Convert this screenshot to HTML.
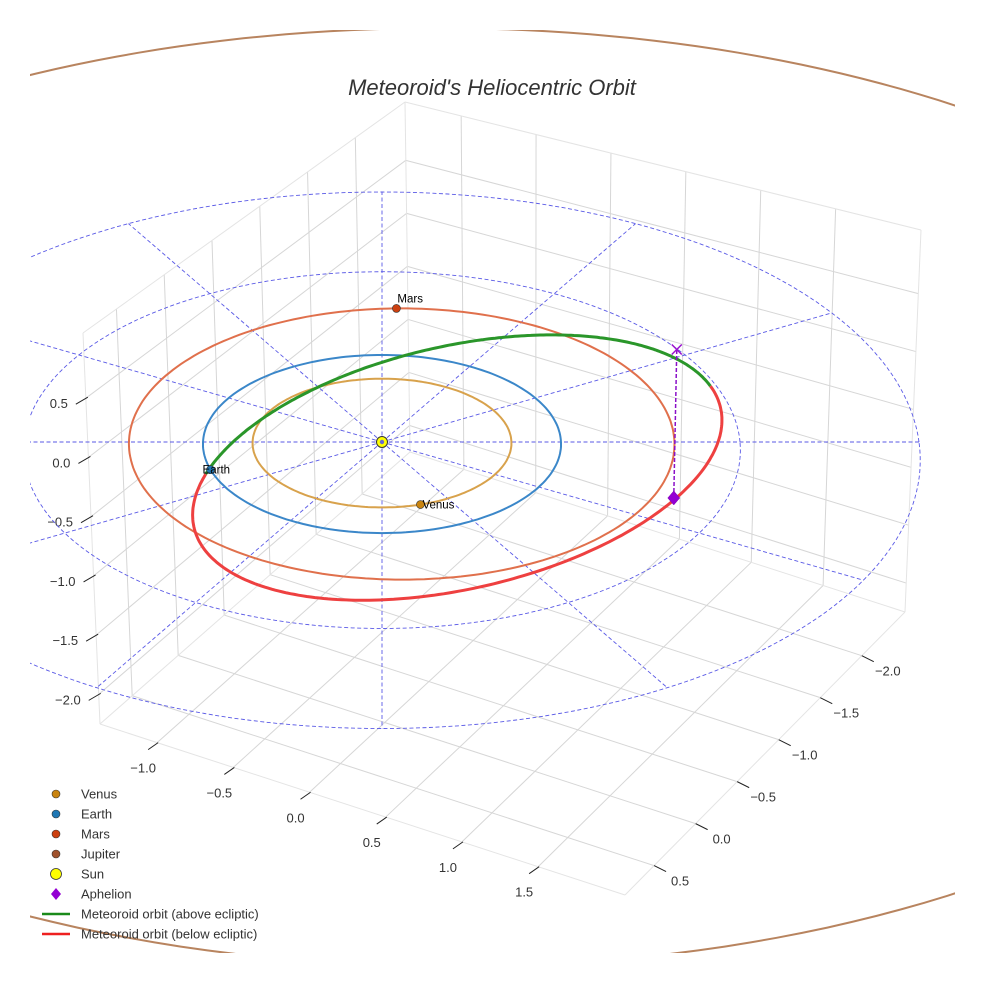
<!DOCTYPE html>
<html><head><meta charset="utf-8"><style>
html,body{margin:0;padding:0;background:#fff;}
svg{display:block;font-family:"Liberation Sans",sans-serif;}
</style></head><body>
<svg id="chart" width="984" height="984" viewBox="0 0 984 984">
<defs><clipPath id="clipAx"><rect x="30" y="30" width="925" height="923"/></clipPath></defs>
<rect width="984" height="984" fill="#fff"/>
<g id="box"></g>
<g id="plot" clip-path="url(#clipAx)"></g>
<text x="492" y="95" text-anchor="middle" font-size="22" font-style="italic" fill="#333">Meteoroid's Heliocentric Orbit</text>
<g id="legend"></g>
</svg>
<script>
// ---- data ----
const planetNames = ['Venus', 'Earth', 'Mars', 'Jupiter'];
const planetA = [0.723, 1.0, 1.524, 5.2];
const planetOffsetX = [0, 0, 0.11, 0.35];
const planetOffsetY = [0, 0, 0.03, 0];
const planetAngleDeg = [-73, 198, 91, null];
const ringRadii = [1, 2, 3];
const spokeAnglesDeg = [0, 30, 60, 90, 120, 150, 180, 210, 240, 270, 300, 330];
const metCenter = [0.436, -0.236];
const metAxisU = [1.475, 0.539];
const metAxisV = [0, -1.371];
const metAboveRange = [-2.85, -0.26];
const aphelionXY = [1.607, -0.62];
const aphelionZ = [1.22];
const xTicks = [-1.0, -0.5, 0.0, 0.5, 1.0, 1.5];
const yTicks = [0.5, 0.0, -0.5, -1.0, -1.5, -2.0];
const zTicks = [0.5, 0.0, -0.5, -1.0, -1.5, -2.0];
const xLim = [-1.375, 2.07];
const yLim = [0.85, -2.52];
const zLim = [-2.25, 1.05];

const NS = 'http://www.w3.org/2000/svg';
function mk(tag, attrs, parent) {
  const e = document.createElementNS(NS, tag);
  for (const k in attrs) e.setAttribute(k, attrs[k]);
  parent.appendChild(e);
  return e;
}
function proj(X, Y, Z) {
  const s = 1 / (1 + 0.0227 * Y);
  return [382 + 179 * X * s, 442 - 89 * Y * s - 120 * (Z || 0) * s];
}
const C = {
  '000': [100, 724], '100': [625, 895], '110': [905, 612], '010': [410, 452],
  '001': [83, 333], '101': [615, 470], '111': [921, 230], '011': [405, 102]
};
function boxP(x, y, z) {
  const u = (x - xLim[0]) / (xLim[1] - xLim[0]);
  const v = (y - yLim[0]) / (yLim[1] - yLim[0]);
  const w = (z - zLim[0]) / (zLim[1] - zLim[0]);
  let px = 0, py = 0;
  for (const a of [0, 1]) for (const b of [0, 1]) for (const c of [0, 1]) {
    const wt = (a ? u : 1 - u) * (b ? v : 1 - v) * (c ? w : 1 - w);
    const p = C['' + a + b + c];
    px += wt * p[0]; py += wt * p[1];
  }
  return [px, py];
}
function fmt(v) { return (v < 0 ? '\u2212' : '') + Math.abs(v).toFixed(1); }

const box = document.getElementById('box');
function gline(p, q, name, col, w) {
  const l = mk('line', {x1: p[0], y1: p[1], x2: q[0], y2: q[1], stroke: col || '#d6d6d6', 'stroke-width': w || 1}, box);
  
  
  return l;
}
xTicks.forEach(x => { gline(boxP(x, yLim[0], zLim[0]), boxP(x, yLim[1], zLim[0]), 'floor-gridline-x'); });
yTicks.forEach(y => { gline(boxP(xLim[0], y, zLim[0]), boxP(xLim[1], y, zLim[0]), 'floor-gridline-y'); });
yTicks.forEach(y => { gline(boxP(xLim[0], y, zLim[0]), boxP(xLim[0], y, zLim[1]), 'left-wall-gridline-y'); });
zTicks.forEach(z => { gline(boxP(xLim[0], yLim[0], z), boxP(xLim[0], yLim[1], z), 'left-wall-gridline-z'); });
xTicks.forEach(x => { gline(boxP(x, yLim[1], zLim[0]), boxP(x, yLim[1], zLim[1]), 'back-wall-gridline-x'); });
zTicks.forEach(z => { gline(boxP(xLim[0], yLim[1], z), boxP(xLim[1], yLim[1], z), 'back-wall-gridline-z'); });
[['000','001'],['010','011'],['110','111'],['001','011'],['011','111'],['000','100'],['100','110'],['000','010'],['010','110']].forEach(e => {
  gline(C[e[0]], C[e[1]], 'pane-edge', '#e4e4e4', 1);
});
xTicks.forEach(x => {
  const p = boxP(x, yLim[0], zLim[0]);
  gline([p[0] - 9, p[1] + 7], [p[0] + 1, p[1]], 'x-tick', '#222', 1);
  const t = mk('text', {x: p[0] - 14, y: p[1] + 30, 'text-anchor': 'middle', 'font-size': 13, fill: '#333'}, box);
  t.textContent = fmt(x);
  
  
});
yTicks.forEach(y => {
  const p = boxP(xLim[1], y, zLim[0]);
  gline([p[0], p[1]], [p[0] + 12, p[1] + 6], 'y-tick', '#222', 1);
  const t = mk('text', {x: p[0] + 26, y: p[1] + 20, 'text-anchor': 'middle', 'font-size': 13, fill: '#333'}, box);
  t.textContent = fmt(y);
  
  
});
zTicks.forEach(z => {
  const p = boxP(xLim[0], yLim[0], z);
  gline([p[0] - 10, p[1] + 6], [p[0] + 2, p[1] - 1], 'z-tick', '#222', 1);
  const t = mk('text', {x: p[0] - 18, y: p[1] + 10, 'text-anchor': 'end', 'font-size': 13, fill: '#333'}, box);
  t.textContent = fmt(z);
  
  
});

const plot = document.getElementById('plot');
function pathFrom(pts) { return pts.map((p, i) => (i ? 'L' : 'M') + p[0].toFixed(1) + ',' + p[1].toFixed(1)).join(''); }
function ringPts(a, ox, oy, t0, t1) {
  const pts = [];
  const n = 240;
  for (let i = 0; i <= n; i++) {
    const t = t0 + (t1 - t0) * i / n;
    pts.push(proj(ox + a * Math.cos(t), oy + a * Math.sin(t)));
  }
  return pts;
}
ringRadii.forEach(r => {
  const p = mk('path', {d: pathFrom(ringPts(r, 0, 0, 0, 2 * Math.PI)), fill: 'none', stroke: '#5a5ae6', 'stroke-width': 0.9, 'stroke-dasharray': '4,2.5'}, plot);
  
  
});
spokeAnglesDeg.forEach(d => {
  const t = d * Math.PI / 180;
  const a = proj(0, 0), b = proj(3 * Math.cos(t), 3 * Math.sin(t));
  const l = mk('line', {x1: a[0], y1: a[1], x2: b[0], y2: b[1], stroke: '#5a5ae6', 'stroke-width': 0.9, 'stroke-dasharray': '4,2.5'}, plot);
  
  
});
const orbitColors = ['#d8a24c', '#3b87c9', '#e0704c', '#b8845f'];
const markerColors = ['#c98410', '#1f77b4', '#cc4010', '#a0522d'];
planetNames.forEach((n, i) => {
  const p = mk('path', {d: pathFrom(ringPts(planetA[i], planetOffsetX[i], planetOffsetY[i], 0, 2 * Math.PI)), fill: 'none', stroke: orbitColors[i], 'stroke-width': 2}, plot);
  
  
});
function metPt(t) {
  return proj(metCenter[0] + metAxisU[0] * Math.cos(t) + metAxisV[0] * Math.sin(t),
              metCenter[1] + metAxisU[1] * Math.cos(t) + metAxisV[1] * Math.sin(t));
}
function metPts(t0, t1) { const pts = []; for (let i = 0; i <= 200; i++) pts.push(metPt(t0 + (t1 - t0) * i / 200)); return pts; }
const red = mk('path', {d: pathFrom(metPts(metAboveRange[1], metAboveRange[0] + 2 * Math.PI)), fill: 'none', stroke: '#ee4040', 'stroke-width': 3}, plot);


const green = mk('path', {d: pathFrom(metPts(metAboveRange[0], metAboveRange[1])), fill: 'none', stroke: '#2a962a', 'stroke-width': 3}, plot);


const aph = proj(aphelionXY[0], aphelionXY[1]);
const aphUp = proj(aphelionXY[0], aphelionXY[1], aphelionZ[0]);
const al = mk('line', {x1: aph[0], y1: aph[1], x2: aphUp[0] + 3, y2: aphUp[1], stroke: '#8a10c8', 'stroke-width': 1.5, 'stroke-dasharray': '4,2'}, plot);


const ax = mk('path', {d: `M${aphUp[0]-2},${aphUp[1]-5}l10,10M${aphUp[0]-2},${aphUp[1]+5}l10,-10`, stroke: '#9a10d0', 'stroke-width': 1.5, fill: 'none'}, plot);


const ad = mk('path', {d: `M${aph[0]},${aph[1]-7}l6,7l-6,7l-6,-7z`, fill: '#9400d3', stroke: '#7a00b0', 'stroke-width': 0.5}, plot);


planetNames.forEach((n, i) => {
  if (planetAngleDeg[i] === null) return;
  const t = planetAngleDeg[i] * Math.PI / 180;
  const p = proj(planetOffsetX[i] + planetA[i] * Math.cos(t), planetOffsetY[i] + planetA[i] * Math.sin(t));
  const c = mk('circle', {cx: p[0], cy: p[1], r: 4, fill: markerColors[i], stroke: '#333', 'stroke-width': 0.6}, plot);
  
  
  const off = n === 'Mars' ? [1, -6, 'start'] : n === 'Earth' ? [-8, 4, 'start'] : [2, 4, 'start'];
  const tx = mk('text', {x: p[0] + off[0], y: p[1] + off[1], 'font-size': 11.5, fill: '#000', 'text-anchor': off[2]}, plot);
  tx.textContent = n;
  
  
});
const sp = proj(0, 0);
const sun = mk('circle', {cx: sp[0], cy: sp[1], r: 5.5, fill: '#ffff00', stroke: '#333', 'stroke-width': 1}, plot);


const sunc = mk('circle', {cx: sp[0], cy: sp[1], r: 2.2, fill: '#6a6ad0'}, plot);



const lg = document.getElementById('legend');
const legendItems = [
  ['Venus', 'c', '#c98410'], ['Earth', 'c', '#1f77b4'], ['Mars', 'c', '#cc4010'], ['Jupiter', 'c', '#a0522d'],
  ['Sun', 's', '#ffff00'], ['Aphelion', 'd', '#9400d3'],
  ['Meteoroid orbit (above ecliptic)', 'l', '#1a8a1a'], ['Meteoroid orbit (below ecliptic)', 'l', '#ee2020']
];
legendItems.forEach((it, i) => {
  const y = 794 + i * 20;
  let m;
  if (it[1] === 'c') m = mk('circle', {cx: 56, cy: y, r: 4, fill: it[2], stroke: '#333', 'stroke-width': 0.6}, lg);
  else if (it[1] === 's') m = mk('circle', {cx: 56, cy: y, r: 5.5, fill: it[2], stroke: '#333', 'stroke-width': 0.8}, lg);
  else if (it[1] === 'd') m = mk('path', {d: `M56,${y-6}l5,6l-5,6l-5,-6z`, fill: it[2]}, lg);
  else m = mk('line', {x1: 42, y1: y, x2: 70, y2: y, stroke: it[2], 'stroke-width': 2.5}, lg);
  
  
  const t = mk('text', {x: 81, y: y + 4.5, 'font-size': 13, fill: '#333'}, lg);
  t.textContent = it[0];
  
  
});
</script>
</body></html>
